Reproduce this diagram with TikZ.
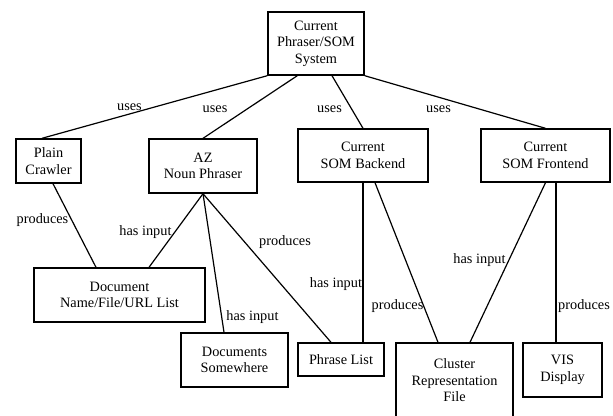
\documentclass[tikz,border=0pt]{standalone}
\usepackage{fontspec}
\setmainfont{Liberation Serif}
\usetikzlibrary{calc}

\begin{document}
\begin{tikzpicture}[x=1pt,y=-1pt,
    box/.style={draw,line width=1.4pt,align=center,inner sep=0pt,
      font=\fontsize{14.3}{16.5}\selectfont},
    rel/.style={inner sep=0pt,anchor=base,font=\fontsize{14.3}{16.5}\selectfont},
    link/.style={line width=1.2pt}]
    \useasboundingbox (0,0) rectangle (613,415);
    % boxes
    \node[box,minimum width=96pt,minimum height=63pt] (sys) at (316,43.5) {Current\\Phraser/SOM\\System};
    \node[box,minimum width=65pt,minimum height=44pt] (crawler) at (48.5,161) {Plain\\Crawler};
    \node[box,minimum width=108pt,minimum height=54pt] (phraser) at (203,166) {AZ\\Noun Phraser};
    \node[box,minimum width=130pt,minimum height=53pt] (backend) at (363,155.5) {Current\\SOM Backend};
    \node[box,minimum width=129pt,minimum height=53pt] (frontend) at (545.5,155.5) {Current\\SOM Frontend};
    \node[box,minimum width=171pt,minimum height=54pt] (doclist) at (119.5,295) {Document\\Name/File/URL List};
    \node[box,minimum width=107pt,minimum height=54pt] (docs) at (234.5,360) {Documents\\Somewhere};
    \node[box,minimum width=86pt,minimum height=33pt] (phrases) at (341,359.5) {Phrase List};
    \node[box,minimum width=117pt,minimum height=75pt] (cluster) at (454.5,380.5) {Cluster\\Representation\\File};
    \node[box,minimum width=79pt,minimum height=54pt] (vis) at (562.5,370) {VIS\\Display};
    % connectors
    \draw[link] (sys.south west) -- ($(crawler.north)+(-6.5,0)$);
    \draw[link] ($(sys.south west)+(30,0)$) -- (phraser.north);
    \draw[link] ($(sys.south)+(16,0)$) -- (backend.north);
    \draw[link] (sys.south east) -- (frontend.north);
    \draw[link] ($(crawler.south)+(4.5,0)$) -- ($(doclist.north)+(-23.5,0)$);
    \draw[link] (phraser.south) -- ($(doclist.north)+(29.5,0)$);
    \draw[link] (phraser.south) -- ($(docs.north)+(-10.5,0)$);
    \draw[link] (phraser.south) -- ($(phrases.north)+(-10,0)$);
    \draw[link] (backend.south) -- (backend.south |- phrases.north);
    \draw[link] ($(backend.south)+(12,0)$) -- ($(cluster.north)+(-16.5,0)$);
    \draw[link] (frontend.south) -- ($(cluster.north)+(15.5,0)$);
    \draw[link] ($(frontend.south)+(10.5,0)$) -- ($(frontend.south |- vis.north)+(10.5,0)$);
    % labels
    \node[rel] (uses1) at (129.5,110.5) {uses};
    \node[rel] (uses2) at (215,112.5) {uses};
    \node[rel] (uses3) at (329.5,112.5) {uses};
    \node[rel] (uses4) at (438.5,112.5) {uses};
    \node[rel] (prod1) at (42.5,223.5) {produces};
    \node[rel] (input1) at (145.5,235.5) {has input};
    \node[rel] (prod2) at (285,245.5) {produces};
    \node[rel] (input2) at (252.5,320.5) {has input};
    \node[rel] (input3) at (336,287.5) {has input};
    \node[rel] (prod3) at (397.5,309.5) {produces};
    \node[rel] (input4) at (479.5,263.5) {has input};
    \node[rel] (prod4) at (584,309.5) {produces};
\end{tikzpicture}
\end{document}
